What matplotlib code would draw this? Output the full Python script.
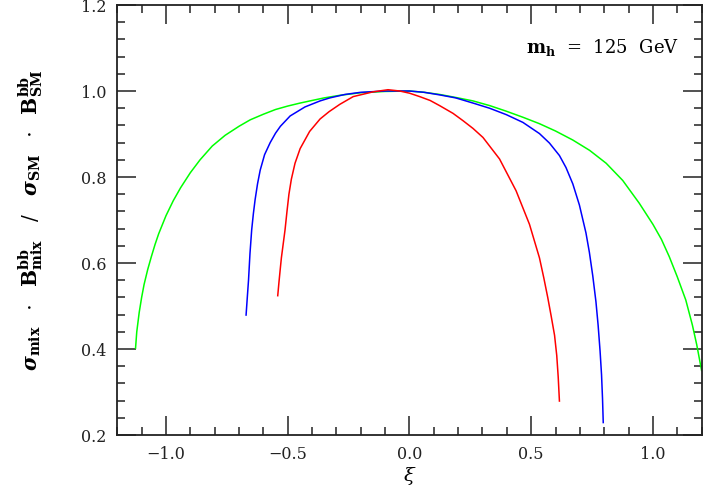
import matplotlib
matplotlib.use("Agg")
import matplotlib.pyplot as plt
from matplotlib.ticker import MultipleLocator

# curves (xi, ratio)
green_x = [-1.125, -1.12, -1.11, -1.1, -1.09, -1.075, -1.06, -1.045, -1.03, -1.0,
           -0.97, -0.94, -0.9, -0.86, -0.81, -0.757, -0.7, -0.654, -0.6, -0.55, -0.5,
           -0.449, -0.4, -0.35, -0.286, -0.2, -0.1, 0.0, 0.06, 0.124, 0.19, 0.261, 0.33,
           0.398, 0.466, 0.534, 0.6, 0.671, 0.74, 0.808, 0.876, 0.944, 1.0, 1.035, 1.067,
           1.1, 1.135, 1.162, 1.18, 1.2]
green_y = [0.402, 0.44, 0.485, 0.52, 0.55, 0.585, 0.615, 0.643, 0.668, 0.71,
           0.745, 0.775, 0.81, 0.84, 0.872, 0.897, 0.918, 0.933, 0.946, 0.957, 0.965,
           0.972, 0.978, 0.984, 0.99, 0.996, 0.999, 1.0, 0.997, 0.992, 0.985, 0.977, 0.966,
           0.953, 0.939, 0.924, 0.907, 0.886, 0.862, 0.832, 0.792, 0.739, 0.69, 0.655, 0.615,
           0.568, 0.514, 0.456, 0.41, 0.35]

blue_x = [-0.671, -0.666, -0.661, -0.655, -0.648, -0.641, -0.634, -0.624, -0.613, -0.595,
          -0.572, -0.55, -0.53, -0.505, -0.49, -0.429, -0.367, -0.327, -0.265, -0.2,
          -0.1, 0.0, 0.06, 0.124, 0.19, 0.261, 0.329, 0.398, 0.466, 0.534, 0.575, 0.616,
          0.643, 0.671, 0.698, 0.725, 0.739, 0.753, 0.766, 0.775, 0.783, 0.789, 0.793, 0.796]
blue_y = [0.479, 0.52, 0.56, 0.622, 0.677, 0.715, 0.747, 0.784, 0.816, 0.852,
          0.88, 0.902, 0.918, 0.933, 0.942, 0.963, 0.977, 0.984, 0.992, 0.997,
          1.0, 1.0, 0.997, 0.991, 0.984, 0.972, 0.96, 0.945, 0.927, 0.901, 0.879, 0.85,
          0.822, 0.784, 0.735, 0.67, 0.625, 0.57, 0.51, 0.455, 0.395, 0.34, 0.285, 0.229]

red_x = [-0.541, -0.536, -0.531, -0.526, -0.52, -0.511, -0.503, -0.495, -0.485, -0.47,
         -0.449, -0.41, -0.367, -0.33, -0.286, -0.231, -0.15, -0.088, -0.04, 0.0, 0.042,
         0.085, 0.124, 0.179, 0.22, 0.261, 0.302, 0.37, 0.438, 0.493, 0.534, 0.552, 0.568,
         0.582, 0.596, 0.605, 0.611, 0.616]
red_y = [0.524, 0.555, 0.584, 0.612, 0.638, 0.677, 0.72, 0.76, 0.795, 0.832,
         0.866, 0.906, 0.935, 0.952, 0.969, 0.987, 0.998, 1.003, 1.0, 0.995, 0.987,
         0.978, 0.966, 0.948, 0.931, 0.913, 0.892, 0.842, 0.768, 0.69, 0.612, 0.565, 0.52,
         0.477, 0.432, 0.385, 0.335, 0.279]

x_ticks = [-1.0, -0.5, 0.0, 0.5, 1.0]
y_ticks = [0.2, 0.4, 0.6, 0.8, 1.0, 1.2]

plt.rcParams['font.family'] = ['DejaVu Serif']
plt.rcParams['mathtext.fontset'] = 'dejavuserif'

fig = plt.figure(figsize=(7.04, 4.91), dpi=100)
ax = fig.add_axes([0.1666, 0.114, 0.83, 0.8758])

ax.plot(green_x, green_y, color='#00ff00', lw=1.1)
ax.plot(blue_x, blue_y, color='#0000ff', lw=1.1)
ax.plot(red_x, red_y, color='#ff0000', lw=1.1)

ax.set_xlim(-1.2, 1.2)
ax.set_ylim(0.2, 1.2)
ax.set_xticks(x_ticks)
ax.set_yticks(y_ticks)
ax.set_xticklabels(['\u22121.0', '\u22120.5', '0.0', '0.5', '1.0'])
ax.set_yticklabels(['0.2', '0.4', '0.6', '0.8', '1.0', '1.2'])
ax.xaxis.set_minor_locator(MultipleLocator(0.1))
ax.yaxis.set_minor_locator(MultipleLocator(0.04))
ax.tick_params(which='both', direction='in', top=True, right=True, width=1.1,
               labelsize=11.5, colors='#222222')
ax.tick_params(which='major', length=13.5, pad=8)
ax.tick_params(which='minor', length=5.5)
for s in ax.spines.values():
    s.set_linewidth(1.3)
    s.set_color('#222222')

ax.set_xlabel(r'$\xi$', fontsize=14, labelpad=1)
ax.set_ylabel(r'$\boldsymbol{\sigma}_{\mathbf{mix}}\ \ \cdot\ \ \mathbf{B}^{\mathbf{bb}}_{\mathbf{mix}}'
              r'\ \ \ /\ \ \ \boldsymbol{\sigma}_{\mathbf{SM}}\ \ \cdot\ \ \mathbf{B}^{\mathbf{bb}}_{\mathbf{SM}}$',
              fontsize=14.5, labelpad=26)

ax.text(1.108, 1.102, r'$\mathbf{m_h}$  =  125  GeV', ha='right', va='center',
        fontsize=13)

fig.savefig('out.png', dpi=100)
